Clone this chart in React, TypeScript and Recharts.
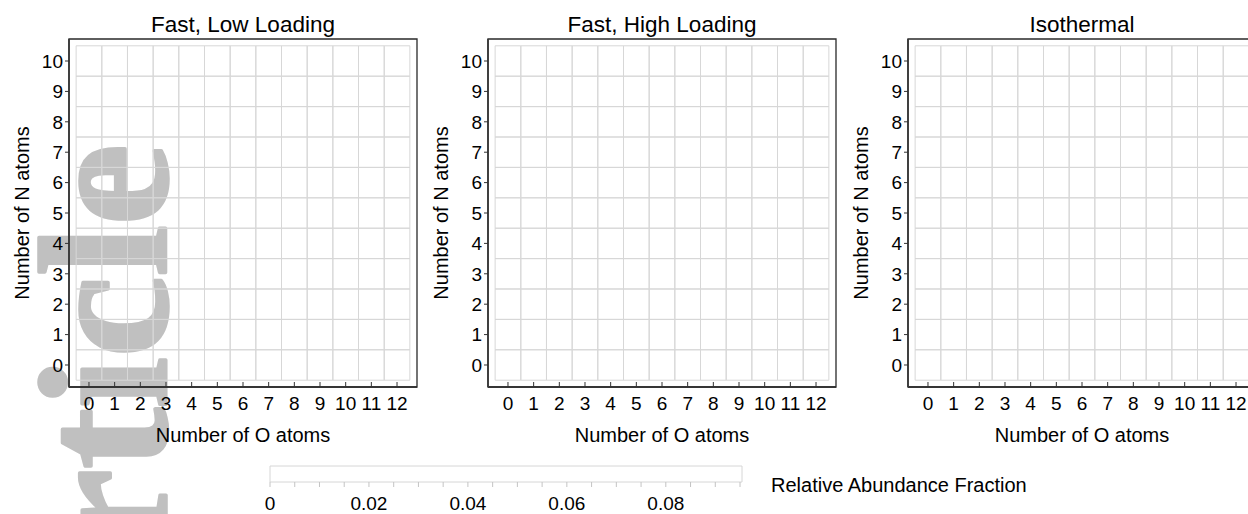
import React from 'react';
import { ComposedChart, XAxis, YAxis, ReferenceArea } from 'recharts';

// axis categories
const O_ATOMS = [0, 1, 2, 3, 4, 5, 6, 7, 8, 9, 10, 11, 12];
const N_ATOMS = [0, 1, 2, 3, 4, 5, 6, 7, 8, 9, 10];

// relative abundance, one row per N count (row 0 = 0 N atoms), one column per O count
// every cell reads as blank in the figure
const LOW_LOADING = [
  [0, 0, 0, 0, 0, 0, 0, 0, 0, 0, 0, 0, 0],
  [0, 0, 0, 0, 0, 0, 0, 0, 0, 0, 0, 0, 0],
  [0, 0, 0, 0, 0, 0, 0, 0, 0, 0, 0, 0, 0],
  [0, 0, 0, 0, 0, 0, 0, 0, 0, 0, 0, 0, 0],
  [0, 0, 0, 0, 0, 0, 0, 0, 0, 0, 0, 0, 0],
  [0, 0, 0, 0, 0, 0, 0, 0, 0, 0, 0, 0, 0],
  [0, 0, 0, 0, 0, 0, 0, 0, 0, 0, 0, 0, 0],
  [0, 0, 0, 0, 0, 0, 0, 0, 0, 0, 0, 0, 0],
  [0, 0, 0, 0, 0, 0, 0, 0, 0, 0, 0, 0, 0],
  [0, 0, 0, 0, 0, 0, 0, 0, 0, 0, 0, 0, 0],
  [0, 0, 0, 0, 0, 0, 0, 0, 0, 0, 0, 0, 0],
];
const HIGH_LOADING = [
  [0, 0, 0, 0, 0, 0, 0, 0, 0, 0, 0, 0, 0],
  [0, 0, 0, 0, 0, 0, 0, 0, 0, 0, 0, 0, 0],
  [0, 0, 0, 0, 0, 0, 0, 0, 0, 0, 0, 0, 0],
  [0, 0, 0, 0, 0, 0, 0, 0, 0, 0, 0, 0, 0],
  [0, 0, 0, 0, 0, 0, 0, 0, 0, 0, 0, 0, 0],
  [0, 0, 0, 0, 0, 0, 0, 0, 0, 0, 0, 0, 0],
  [0, 0, 0, 0, 0, 0, 0, 0, 0, 0, 0, 0, 0],
  [0, 0, 0, 0, 0, 0, 0, 0, 0, 0, 0, 0, 0],
  [0, 0, 0, 0, 0, 0, 0, 0, 0, 0, 0, 0, 0],
  [0, 0, 0, 0, 0, 0, 0, 0, 0, 0, 0, 0, 0],
  [0, 0, 0, 0, 0, 0, 0, 0, 0, 0, 0, 0, 0],
];
const ISOTHERMAL = [
  [0, 0, 0, 0, 0, 0, 0, 0, 0, 0, 0, 0, 0],
  [0, 0, 0, 0, 0, 0, 0, 0, 0, 0, 0, 0, 0],
  [0, 0, 0, 0, 0, 0, 0, 0, 0, 0, 0, 0, 0],
  [0, 0, 0, 0, 0, 0, 0, 0, 0, 0, 0, 0, 0],
  [0, 0, 0, 0, 0, 0, 0, 0, 0, 0, 0, 0, 0],
  [0, 0, 0, 0, 0, 0, 0, 0, 0, 0, 0, 0, 0],
  [0, 0, 0, 0, 0, 0, 0, 0, 0, 0, 0, 0, 0],
  [0, 0, 0, 0, 0, 0, 0, 0, 0, 0, 0, 0, 0],
  [0, 0, 0, 0, 0, 0, 0, 0, 0, 0, 0, 0, 0],
  [0, 0, 0, 0, 0, 0, 0, 0, 0, 0, 0, 0, 0],
  [0, 0, 0, 0, 0, 0, 0, 0, 0, 0, 0, 0, 0],
];

const PANEL_TITLES = ['Fast, Low Loading', 'Fast, High Loading', 'Isothermal'];

// colour bar
const CB_MAX = 0.0954;
const CB_TICKS = [
  0, 0.005, 0.01, 0.015, 0.02, 0.025, 0.03, 0.035, 0.04, 0.045,
  0.05, 0.055, 0.06, 0.065, 0.07, 0.075, 0.08, 0.085, 0.09, 0.095,
];
const CB_LABELS = [0, 0.02, 0.04, 0.06, 0.08];

const X_DOMAIN = [-0.778, 12.778];
const Y_DOMAIN = [-0.724, 10.724];
const AXIS = { stroke: '#2a2a2a', strokeWidth: 1.3 };
const FONT = '"Liberation Sans", Arial, Helvetica, sans-serif';

function Panel({ title, values, left }: { title: string; values: number[][]; left: number }) {
  const cells = N_ATOMS.flatMap((n, r) => O_ATOMS.map((o, c) => ({ o, n, v: values[r][c] })));

  return (
    <div style={{ position: 'absolute', left, top: 0 }}>
      <ComposedChart width={420} height={450} data={cells} margin={{ top: 39, right: 3, bottom: 0, left: 0 }}>
        <XAxis
          type="number"
          dataKey="o"
          domain={X_DOMAIN}
          ticks={O_ATOMS}
          interval={0}
          allowDataOverflow
          height={63}
          tickSize={-5}
          tickMargin={15}
          tick={{ fontSize: 19, fill: '#000' }}
          tickLine={{ stroke: '#333' }}
          axisLine={AXIS}
          label={{ value: 'Number of O atoms', position: 'insideBottom', offset: 8, fontSize: 20, fill: '#000' }}
        />
        <YAxis
          type="number"
          dataKey="n"
          domain={Y_DOMAIN}
          ticks={N_ATOMS}
          interval={0}
          allowDataOverflow
          width={69}
          tickSize={4}
          tickMargin={2}
          tick={{ fontSize: 19, fill: '#000' }}
          tickLine={{ stroke: '#333' }}
          axisLine={{ stroke: '#3a3a3a', strokeWidth: 1.8 }}
          label={{
            value: 'Number of N atoms',
            content: (p: any) => {
              const vb = p.viewBox || { x: 0, y: 39, width: 69, height: 348 };
              return (
                <text
                  transform={`translate(${vb.x + 28.5},${vb.y + vb.height / 2}) rotate(-90)`}
                  textAnchor="middle"
                  fontSize={20}
                  fill="#000"
                >
                  Number of N atoms
                </text>
              );
            },
          }}
        />
        {cells.map((c) => (
          <ReferenceArea
            key={`${c.o}-${c.n}`}
            x1={c.o - 0.5}
            x2={c.o + 0.5}
            y1={c.n - 0.5}
            y2={c.n + 0.5}
            fill="#08306b"
            fillOpacity={c.v / CB_MAX}
            stroke="#d7d7d7"
            strokeWidth={1}
            strokeOpacity={1}
            ifOverflow="visible"
          />
        ))}
        {/* plot frame, carries the panel title */}
        <ReferenceArea
          x1={X_DOMAIN[0]}
          x2={X_DOMAIN[1]}
          y1={Y_DOMAIN[0]}
          y2={Y_DOMAIN[1]}
          fill="none"
          fillOpacity={0}
          stroke="#2a2a2a"
          strokeWidth={1.3}
          strokeOpacity={1}
          ifOverflow="visible"
          label={{ value: title, position: 'top', offset: 7, fontSize: 22.5, fill: '#000' }}
        />
      </ComposedChart>
    </div>
  );
}

function ColorBarTick(props: any) {
  const { x, y, payload } = props;
  if (!CB_LABELS.includes(payload.value)) return null;
  return (
    <text x={x} y={y} dy="0.71em" textAnchor="middle" fontSize={19} fill="#000">
      {payload.value === 0 ? '0' : String(payload.value)}
    </text>
  );
}

function ColorBar() {
  return (
    <div style={{ position: 'absolute', left: 250, top: 446 }}>
      <ComposedChart
        width={512}
        height={68}
        data={[{ v: 0, y: 0 }, { v: CB_MAX, y: 1 }]}
        margin={{ top: 20, right: 20, bottom: 0, left: 20 }}
      >
        <XAxis
          type="number"
          dataKey="v"
          domain={[0, CB_MAX]}
          ticks={CB_TICKS}
          interval={0}
          allowDataOverflow
          height={32}
          tickSize={5}
          tickMargin={10}
          tickLine={{ stroke: '#c4c4c4' }}
          axisLine={false}
          tick={<ColorBarTick />}
        />
        <YAxis type="number" dataKey="y" domain={[0, 1]} width={0} tick={false} tickLine={false} axisLine={false} />
        <ReferenceArea
          x1={0}
          x2={CB_MAX}
          y1={0}
          y2={1}
          fill="#ffffff"
          fillOpacity={1}
          stroke="#d6d6d6"
          strokeWidth={1}
          strokeOpacity={1}
          ifOverflow="visible"
        />
      </ComposedChart>
    </div>
  );
}

export default function App() {
  const data = [LOW_LOADING, HIGH_LOADING, ISOTHERMAL];
  const lefts = [0, 419, 839];
  return (
    <div style={{ position: 'relative', width: 1248, height: 514, overflow: 'hidden', background: '#fff', fontFamily: FONT }}>
      <style>{'body { margin: 0; }'}</style>
      <svg width={1248} height={514} style={{ position: 'absolute', left: 0, top: 0 }}>
        <text
          transform="translate(166,144) rotate(-90)"
          textAnchor="end"
          style={{ fontFamily: '"Liberation Serif", "Times New Roman", serif', fontWeight: 700 }}
          fontSize={183}
          fill="#c0c0c0"
          stroke="#c0c0c0"
          strokeWidth={3.5}
          strokeLinejoin="round"
        >
          Article
        </text>
      </svg>
      {PANEL_TITLES.map((t, i) => (
        <Panel key={t} title={t} values={data[i]} left={lefts[i]} />
      ))}
      <ColorBar />
      <svg width={1248} height={514} style={{ position: 'absolute', left: 0, top: 0, pointerEvents: 'none' }}>
        <text x={771} y={492} fontSize={20} fill="#000">
          Relative Abundance Fraction
        </text>
      </svg>
    </div>
  );
}
